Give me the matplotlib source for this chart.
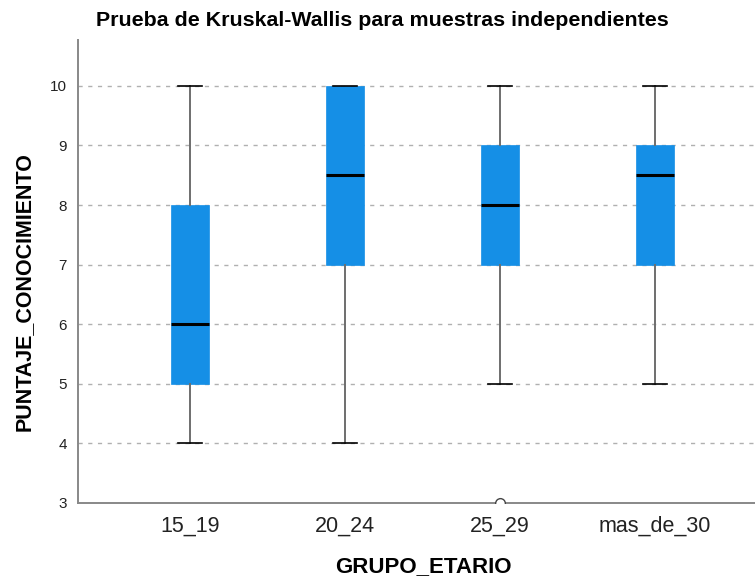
import matplotlib.pyplot as plt

# data
groups = ["15_19", "20_24", "25_29", "mas_de_30"]
whisker_low = [4, 4, 5, 5]
q1 = [5, 7, 7, 7]
median = [6, 8.5, 8, 8.5]
q3 = [8, 10, 9, 9]
whisker_high = [10, 10, 10, 10]
outliers = [[], [], [3], []]

plt.rcParams['font.family'] = ['Liberation Sans', 'DejaVu Sans']

fig = plt.figure(figsize=(7.55, 5.8), dpi=100)
ax = fig.add_axes([78 / 755, 77 / 580, 677 / 755, 463 / 580])

stats = []
for i, g in enumerate(groups):
    stats.append({
        'label': g,
        'whislo': whisker_low[i],
        'q1': q1[i],
        'med': median[i],
        'q3': q3[i],
        'whishi': whisker_high[i],
        'fliers': outliers[i],
    })

ax.bxp(stats, positions=range(len(groups)), widths=0.25, patch_artist=True,
       boxprops=dict(facecolor='#158fe6', edgecolor='#158fe6', linewidth=0.5),
       medianprops=dict(color='black', linewidth=2.2),
       whiskerprops=dict(color='#6e6e6e', linewidth=1.4),
       capprops=dict(color='black', linewidth=1.2),
       capwidths=0.15,
       flierprops=dict(marker='o', markerfacecolor='white', markeredgecolor='#444444',
                       markersize=7, markeredgewidth=1.0),
       zorder=3)

ax.set_xlim(-0.723, 3.645)
ax.set_ylim(3, 10.77)
ax.set_yticks(range(3, 11))
ax.set_xticks(range(len(groups)))
ax.set_xticklabels(groups)

for y in range(4, 11):
    ax.axhline(y, color='#b0b0b0', linestyle=(0, (3, 4)), linewidth=1.0, zorder=1)

ax.spines['top'].set_visible(False)
ax.spines['right'].set_visible(False)
ax.spines['left'].set_color('#888888')
ax.spines['bottom'].set_color('#888888')
ax.spines['left'].set_linewidth(1.4)
ax.spines['bottom'].set_linewidth(1.4)

ax.tick_params(axis='y', length=0, pad=8, labelsize=11, labelcolor='#222222')
ax.tick_params(axis='x', length=0, pad=9, labelsize=15.5, labelcolor='#222222')

fig.text(382 / 755, 1 - 20 / 580, "Prueba de Kruskal-Wallis para muestras independientes",
         ha='center', va='center', fontsize=15.4, fontweight='bold')
fig.text(24 / 755, 1 - 292 / 580, "PUNTAJE_CONOCIMIENTO", rotation=90,
         ha='center', va='center', fontsize=15.5, fontweight='bold')
fig.text(423 / 755, 1 - 567 / 580, "GRUPO_ETARIO",
         ha='center', va='center', fontsize=16, fontweight='bold')

fig.savefig("out.png", dpi=100)
